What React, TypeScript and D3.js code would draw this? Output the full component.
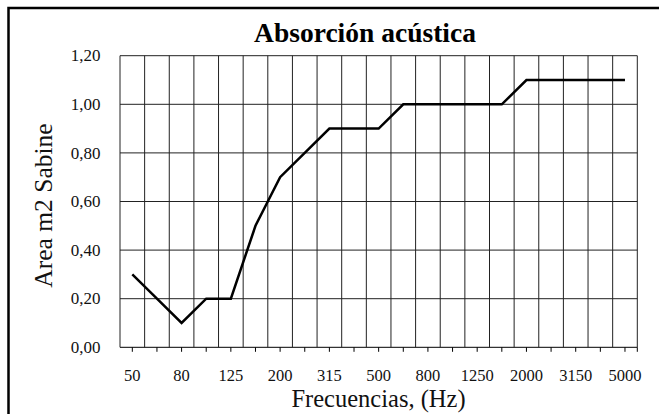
import React from "react";
import * as d3 from "d3";

const categories = ["50","63","80","100","125","160","200","250","315","400","500","630","800","1000","1250","1600","2000","2500","3150","4000","5000"];
const values = [0.30,0.20,0.10,0.20,0.20,0.50,0.70,0.80,0.90,0.90,0.90,1.00,1.00,1.00,1.00,1.00,1.10,1.10,1.10,1.10,1.10];
const yTicks = [0,0.2,0.4,0.6,0.8,1.0,1.2];
const shownLabels = ["50","80","125","200","315","500","800","1250","2000","3150","5000"];
const title = "Absorción acústica";
const xTitle = "Frecuencias, (Hz)";
const yTitle = "Area m2 Sabine";

const W = 659, H = 414;
const left = 120, right = 637.3, top = 55.7, bottom = 347.3;
const FONT = "'Liberation Serif', serif";

export default function App() {
  const x = d3.scaleBand<string>().domain(categories).range([left, right]).padding(0);
  const y = d3.scaleLinear().domain([0, 1.2]).range([bottom, top]);
  const bw = x.bandwidth();
  const cx = (c: string) => (x(c) as number) + bw / 2;
  const line = d3.line<number>().x((_, i) => cx(categories[i])).y(d => y(d));
  const fmt = (v: number) => v.toFixed(2).replace(".", ",");
  const grid = "#222";
  return (
    <svg width={W} height={H} style={{ position: "absolute", left: 0, top: 0, background: "#fff" }}>
      <rect x={0} y={0} width={W} height={H} fill="#fff" />
      <rect x={8.5} y={8} width={W + 20} height={H + 20} fill="none" stroke="#000" strokeWidth={2.5} />
      {yTicks.map(t => (
        <line key={"h" + t} x1={left} x2={right} y1={y(t)} y2={y(t)} stroke={t === 0 ? "#000" : grid} strokeWidth={1} />
      ))}
      {categories.map(c => (
        <line key={"v" + c} x1={x(c) as number} x2={x(c) as number} y1={top} y2={bottom} stroke={grid} strokeWidth={1} />
      ))}
      <line x1={right} x2={right} y1={top} y2={bottom} stroke={grid} strokeWidth={1} />
      {categories.map(c => (
        <line key={"t" + c} x1={cx(c)} x2={cx(c)} y1={bottom} y2={bottom + 4.5} stroke="#000" strokeWidth={1} />
      ))}
      <line x1={right} x2={right} y1={bottom} y2={bottom + 4.5} stroke="#000" strokeWidth={1} />
      <path d={line(values) || ""} fill="none" stroke="#000" strokeWidth={2.5} strokeLinejoin="miter" />
      {yTicks.map(t => (
        <text key={"yl" + t} x={100.5} y={y(t)} dy="0.33em" textAnchor="end" fontFamily={FONT} fontSize={17} fill="#111">{fmt(t)}</text>
      ))}
      {categories.filter(c => shownLabels.includes(c)).map(c => (
        <text key={"xl" + c} x={cx(c)} y={380.5} textAnchor="middle" fontFamily={FONT} fontSize={16.5} fill="#111">{c}</text>
      ))}
      <text x={365} y={41.5} textAnchor="middle" fontFamily={FONT} fontWeight="bold" fontSize={27.5} fill="#000">{title}</text>
      <text x={378.5} y={406.5} textAnchor="middle" fontFamily={FONT} fontSize={24.5} fill="#111">{xTitle}</text>
      <text transform={`translate(52,205.5) rotate(-90)`} textAnchor="middle" fontFamily={FONT} fontSize={25.5} fill="#111">{yTitle}</text>
    </svg>
  );
}
